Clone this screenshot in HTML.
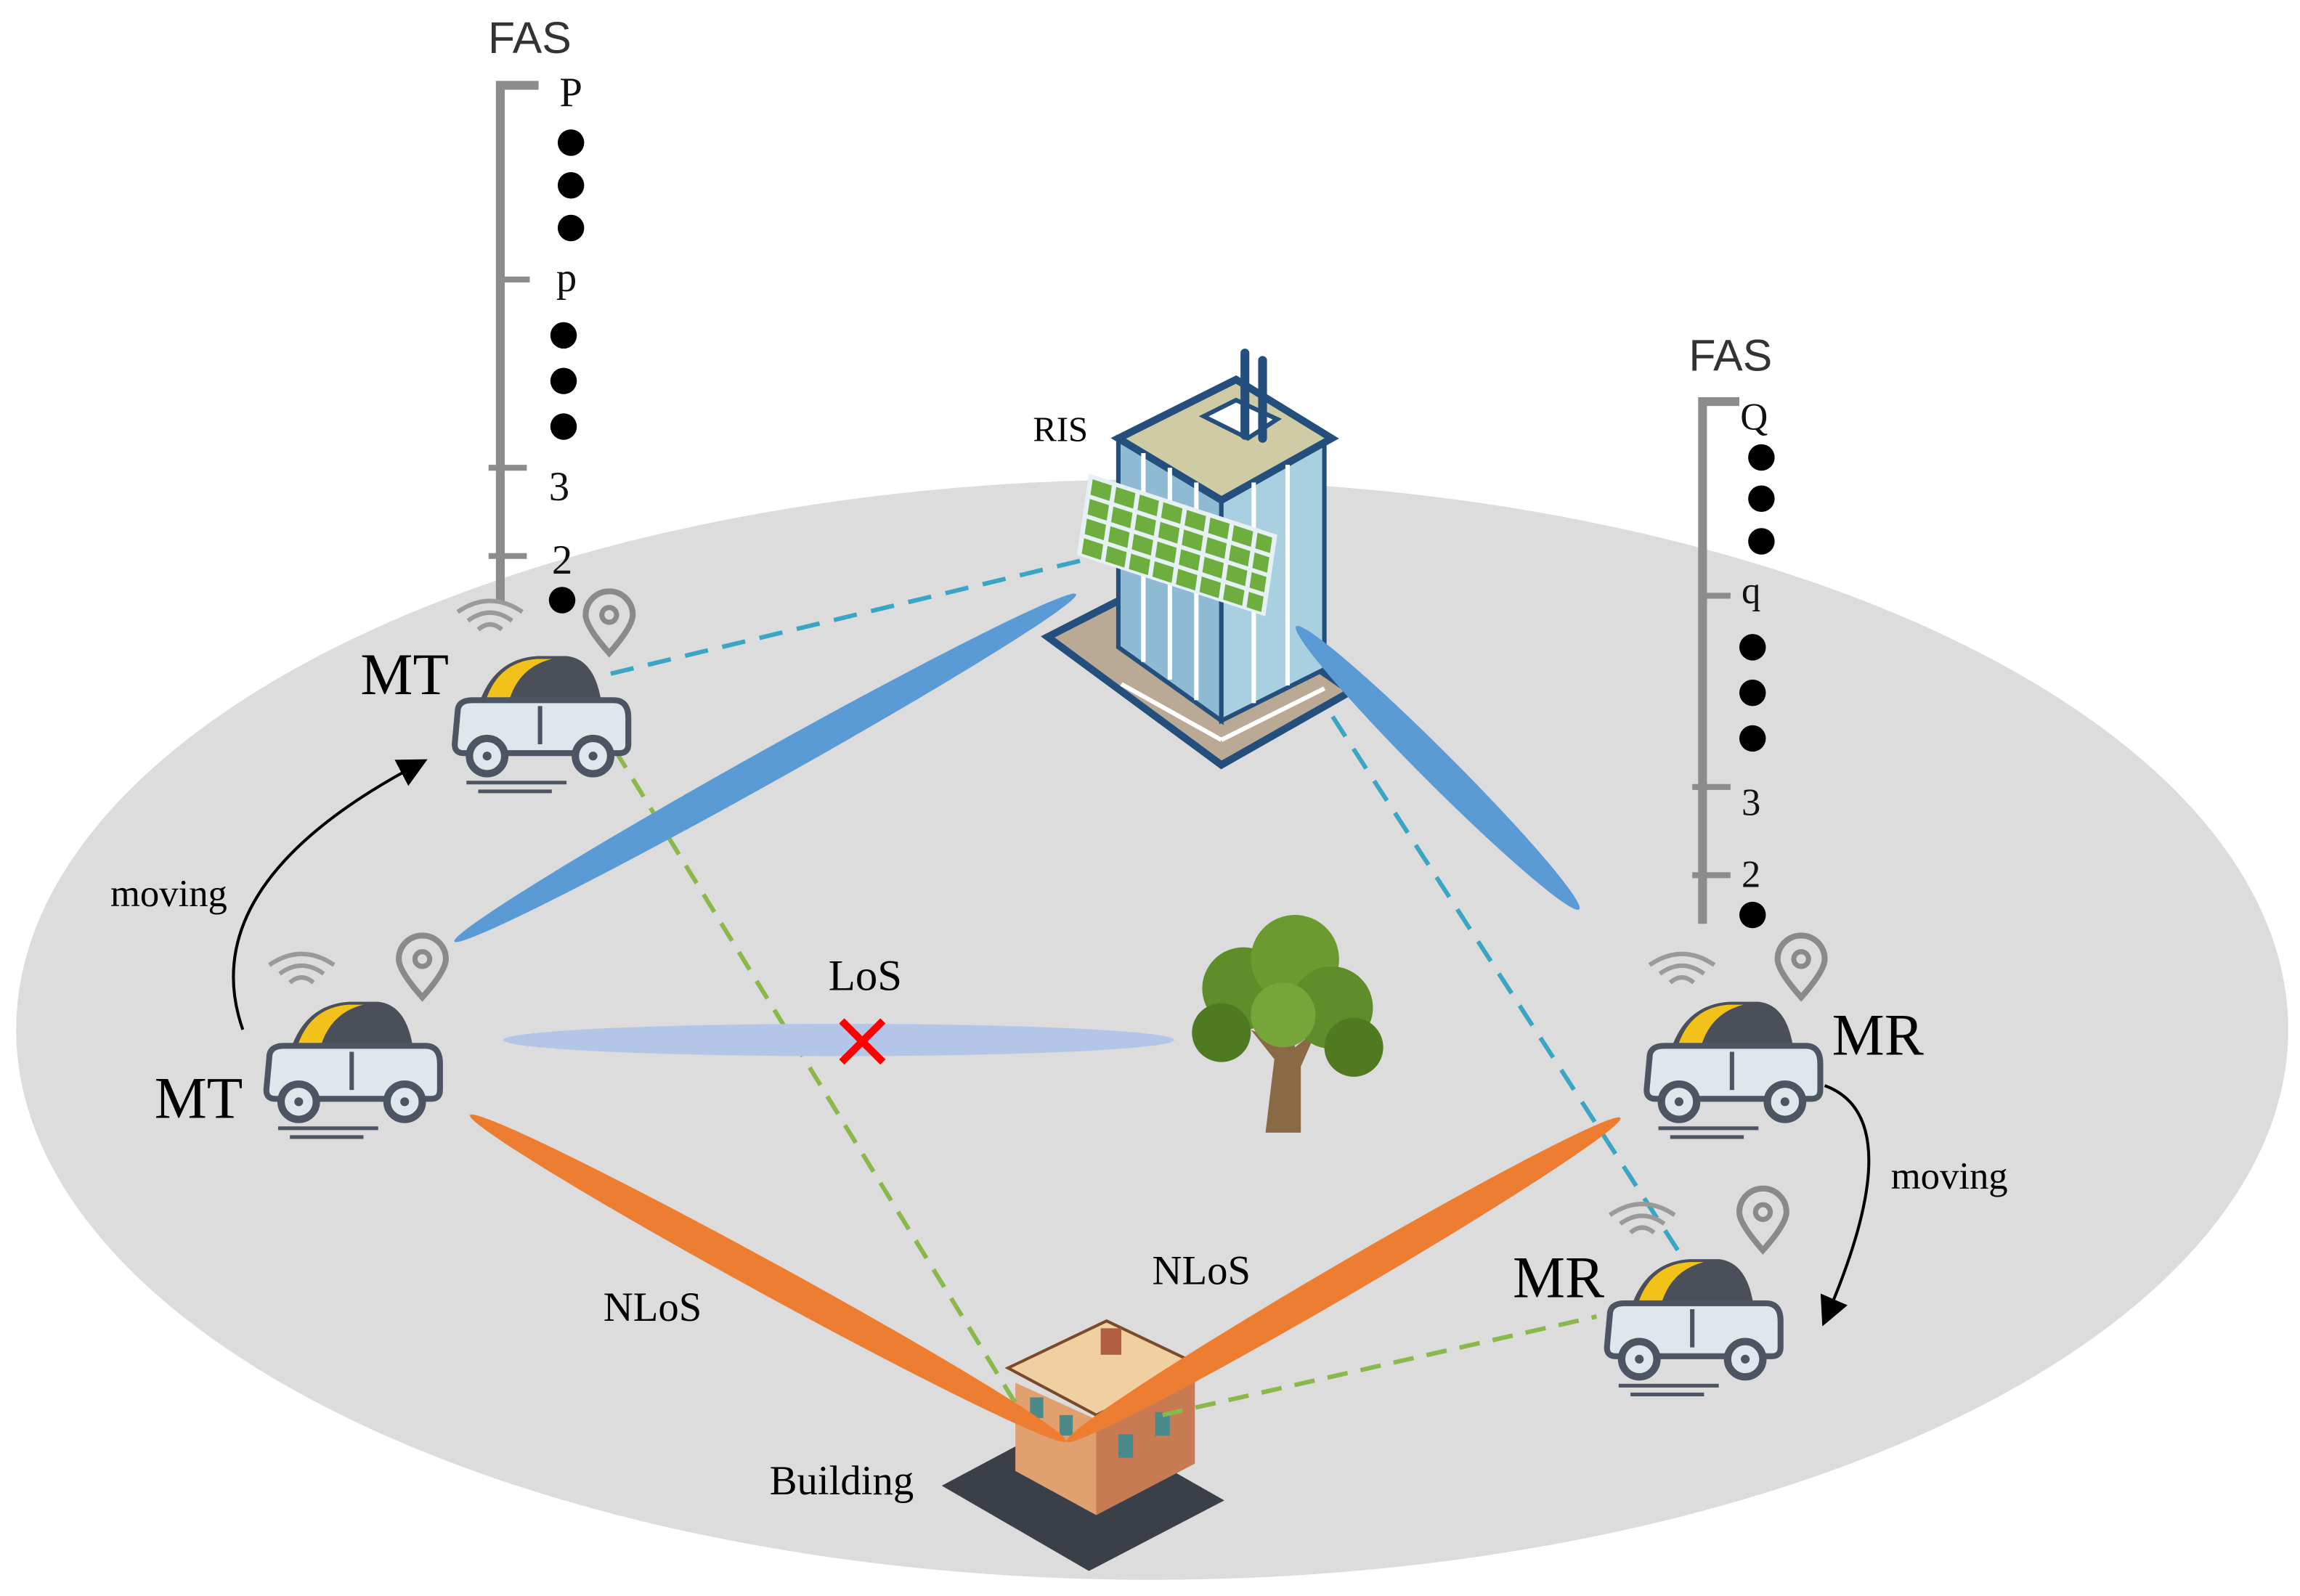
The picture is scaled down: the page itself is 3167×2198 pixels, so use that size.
<!DOCTYPE html>
<html><head><meta charset="utf-8"><style>html,body{margin:0;padding:0;background:#fff}svg{display:block}</style></head>
<body>
<svg width="3167" height="2198" viewBox="0 0 1563 1085" preserveAspectRatio="none" xmlns="http://www.w3.org/2000/svg" font-family="Liberation Serif, serif">
<defs>
<g id="car">
  <path d="M20 40 Q30 8 60 6 L80 6 Q100 8 104 40 Z" fill="#4a4f5a"/>
  <path d="M24 40 Q32 10 60 8 L70 8 Q46 14 40 40 Z" fill="#f2c21b"/>
  <path d="M6 44 Q6 36 16 36 L112 36 Q122 36 122 48 L122 66 Q122 72 116 72 L10 72 Q4 72 4 66 Z" fill="#dfe6ec" stroke="#4e5562" stroke-width="4"/>
  <line x1="62" y1="40" x2="62" y2="66" stroke="#4e5562" stroke-width="3"/>
  <circle cx="26" cy="74" r="12" fill="#dfe6ec" stroke="#4e5562" stroke-width="5"/>
  <circle cx="26" cy="74" r="3" fill="#4e5562"/>
  <circle cx="98" cy="74" r="12" fill="#dfe6ec" stroke="#4e5562" stroke-width="5"/>
  <circle cx="98" cy="74" r="3" fill="#4e5562"/>
  <line x1="12" y1="92" x2="80" y2="92" stroke="#4e5562" stroke-width="2.5"/>
  <line x1="20" y1="98" x2="70" y2="98" stroke="#4e5562" stroke-width="2.5"/>
</g>
<g id="wifi" fill="none" stroke="#9a9a9a" stroke-width="3">
  <path d="M-8 0 Q0 -7 8 0"/><path d="M-15 -6 Q0 -17 15 -6"/><path d="M-22 -12 Q0 -27 22 -12"/>
</g>
<g id="pin">
  <path d="M0 22 Q-16 4 -16 -4 A16 16 0 1 1 16 -4 Q16 4 0 22 Z" fill="none" stroke="#8a8a8a" stroke-width="4"/>
  <circle cx="0" cy="-4" r="5" fill="none" stroke="#8a8a8a" stroke-width="3.5"/>
</g>
<marker id="ar" markerWidth="10" markerHeight="10" refX="8" refY="5" orient="auto"><path d="M0 0 L10 5 L0 10 Z" fill="#000"/></marker>
</defs>
<rect width="1563" height="1085" fill="#fff"/>
<ellipse cx="783" cy="700" rx="772" ry="374" fill="#dcdcdc"/>

<!-- house -->
<g>
  <path d="M640 1010 L740 1068 L832 1020 L730 962 Z" fill="#3b3f48"/>
  <path d="M690 940 L690 1000 L745 1030 L745 965 Z" fill="#e0a070"/>
  <path d="M745 965 L745 1030 L812 995 L812 935 Z" fill="#c87a52"/>
  <path d="M685 930 L745 962 L815 928 L752 898 Z" fill="#f0d0a0" stroke="#7a4a2a" stroke-width="2"/>
  <rect x="748" y="903" width="14" height="18" fill="#b06040"/>
  <rect x="760" y="975" width="10" height="16" fill="#4a8a8a"/><rect x="785" y="960" width="10" height="16" fill="#4a8a8a"/>
  <rect x="700" y="950" width="9" height="14" fill="#4a8a8a"/><rect x="720" y="962" width="9" height="14" fill="#4a8a8a"/>
</g>

<!-- dashed links -->
<line x1="415" y1="458" x2="760" y2="375" stroke="#3aa6c4" stroke-width="3" stroke-dasharray="16,10"/>
<line x1="835" y1="378" x2="1148" y2="862" stroke="#3aa6c4" stroke-width="3" stroke-dasharray="16,10"/>
<line x1="418" y1="510" x2="695" y2="962" stroke="#8ab84a" stroke-width="3" stroke-dasharray="14,9"/>
<line x1="790" y1="962" x2="1085" y2="895" stroke="#8ab84a" stroke-width="3" stroke-dasharray="14,9"/>

<!-- LoS -->
<ellipse cx="570" cy="707" rx="228" ry="11" fill="#b4c6e7"/>
<path d="M572 694 L600 722 M600 694 L572 722" stroke="#ff0000" stroke-width="5"/>

<!-- RIS building -->
<g>
  <path d="M712 433 L800 388 L918 470 L830 520 Z" fill="#b9a995" stroke="#244f7d" stroke-width="5"/>
  <path d="M760 298 L760 440 L830 490 L830 340 Z" fill="#8fbad4" stroke="#244f7d" stroke-width="3"/>
  <path d="M830 340 L830 490 L900 455 L900 300 Z" fill="#a9d0e0" stroke="#244f7d" stroke-width="3"/>
  <path d="M760 298 L830 340 L905 298 L840 258 Z" fill="#cfcba4" stroke="#244f7d" stroke-width="5"/>
  <path d="M818 283 L848 298 L868 285 L840 272 Z" fill="#fff" stroke="#244f7d" stroke-width="3"/>
  <path d="M846 296 L846 240 M858 298 L858 245" stroke="#244f7d" stroke-width="6" stroke-linecap="round"/>
  <g stroke="#fff" stroke-width="3">
    <line x1="777" y1="308" x2="777" y2="450"/><line x1="795" y1="318" x2="795" y2="462"/><line x1="813" y1="328" x2="813" y2="476"/>
    <line x1="852" y1="328" x2="852" y2="478"/><line x1="875" y1="316" x2="875" y2="466"/>
    <line x1="762" y1="465" x2="830" y2="503" /><line x1="830" y1="503" x2="900" y2="468"/>
  </g>
  <g transform="translate(740,322) skewY(18) skewX(-8)">
    <rect x="0" y="0" width="128" height="58" fill="#e6f0f5"/>
    <g fill="#6eae3f">
      <rect x="3" y="3" width="13" height="11"/><rect x="19" y="3" width="13" height="11"/><rect x="35" y="3" width="13" height="11"/><rect x="51" y="3" width="13" height="11"/><rect x="67" y="3" width="13" height="11"/><rect x="83" y="3" width="13" height="11"/><rect x="99" y="3" width="13" height="11"/><rect x="115" y="3" width="10" height="11"/>
      <rect x="3" y="17" width="13" height="11"/><rect x="19" y="17" width="13" height="11"/><rect x="35" y="17" width="13" height="11"/><rect x="51" y="17" width="13" height="11"/><rect x="67" y="17" width="13" height="11"/><rect x="83" y="17" width="13" height="11"/><rect x="99" y="17" width="13" height="11"/><rect x="115" y="17" width="10" height="11"/>
      <rect x="3" y="31" width="13" height="11"/><rect x="19" y="31" width="13" height="11"/><rect x="35" y="31" width="13" height="11"/><rect x="51" y="31" width="13" height="11"/><rect x="67" y="31" width="13" height="11"/><rect x="83" y="31" width="13" height="11"/><rect x="99" y="31" width="13" height="11"/><rect x="115" y="31" width="10" height="11"/>
      <rect x="3" y="45" width="13" height="11"/><rect x="19" y="45" width="13" height="11"/><rect x="35" y="45" width="13" height="11"/><rect x="51" y="45" width="13" height="11"/><rect x="67" y="45" width="13" height="11"/><rect x="83" y="45" width="13" height="11"/><rect x="99" y="45" width="13" height="11"/><rect x="115" y="45" width="10" height="11"/>
    </g>
  </g>
</g>

<!-- beams -->
<ellipse cx="520" cy="522" rx="242" ry="11" transform="rotate(-29.2 520 522)" fill="#5b9bd5"/>
<ellipse cx="977" cy="522" rx="136" ry="11" transform="rotate(45 977 522)" fill="#5b9bd5"/>
<ellipse cx="522" cy="869" rx="231" ry="11" transform="rotate(28.7 522 869)" fill="#ed7d31"/>
<ellipse cx="913" cy="870" rx="218" ry="11" transform="rotate(-30.3 913 870)" fill="#ed7d31"/>

<!-- tree -->
<g>
  <path d="M860 770 L866 720 L850 700 L868 708 L878 690 L880 712 L895 700 L884 725 L884 770 Z" fill="#8a6a45"/>
  <circle cx="845" cy="672" r="28" fill="#5e8d2a"/><circle cx="880" cy="652" r="30" fill="#6a9a30"/><circle cx="905" cy="685" r="28" fill="#5e8d2a"/>
  <circle cx="830" cy="702" r="20" fill="#4f7a22"/><circle cx="920" cy="712" r="20" fill="#4f7a22"/><circle cx="872" cy="690" r="22" fill="#76a63a"/>
</g>

<!-- FAS left -->
<path d="M340 410 L340 58 L366 58" fill="none" stroke="#8c8c8c" stroke-width="6"/>
<g stroke="#8c8c8c" stroke-width="4"><line x1="340" y1="190" x2="360" y2="190"/><line x1="332" y1="318" x2="358" y2="318"/><line x1="332" y1="378" x2="358" y2="378"/></g>
<text x="360" y="36" font-family="Liberation Sans, sans-serif" font-size="30" text-anchor="middle" fill="#333">FAS</text>
<g font-size="28" text-anchor="middle" fill="#111">
<text x="388" y="72">P</text><text x="385" y="198">p</text><text x="380" y="340">3</text><text x="382" y="390">2</text>
</g>
<g fill="#000"><circle cx="388" cy="97" r="9"/><circle cx="388" cy="126" r="9"/><circle cx="388" cy="155" r="9"/>
<circle cx="383" cy="228" r="9"/><circle cx="383" cy="259" r="9"/><circle cx="383" cy="290" r="9"/><circle cx="382" cy="408" r="9"/></g>

<!-- FAS right -->
<path d="M1157 628 L1157 273 L1182 273" fill="none" stroke="#8c8c8c" stroke-width="6"/>
<g stroke="#8c8c8c" stroke-width="4"><line x1="1157" y1="405" x2="1176" y2="405"/><line x1="1150" y1="535" x2="1176" y2="535"/><line x1="1150" y1="595" x2="1176" y2="595"/></g>
<text x="1176" y="252" font-family="Liberation Sans, sans-serif" font-size="30" text-anchor="middle" fill="#333">FAS</text>
<g font-size="26" text-anchor="middle" fill="#111">
<text x="1192" y="292">Q</text><text x="1190" y="410">q</text><text x="1190" y="554">3</text><text x="1190" y="603">2</text>
</g>
<g fill="#000"><circle cx="1197" cy="311" r="9"/><circle cx="1197" cy="339" r="9"/><circle cx="1197" cy="368" r="9"/>
<circle cx="1191" cy="440" r="9"/><circle cx="1191" cy="471" r="9"/><circle cx="1191" cy="502" r="9"/><circle cx="1191" cy="622" r="9"/></g>

<!-- cars -->
<use href="#car" x="305" y="440"/>
<use href="#wifi" x="333" y="428"/><use href="#pin" x="414" y="422"/>
<use href="#car" x="177" y="675"/>
<use href="#wifi" x="205" y="668"/><use href="#pin" x="287" y="656"/>
<use href="#car" x="1115" y="675"/>
<use href="#wifi" x="1143" y="668"/><use href="#pin" x="1224" y="656"/>
<use href="#car" x="1088" y="850"/>
<use href="#wifi" x="1116" y="838"/><use href="#pin" x="1198" y="828"/>

<!-- arrows -->
<path d="M165 700 Q130 600 287 518" fill="none" stroke="#000" stroke-width="2" marker-end="url(#ar)"/>
<path d="M1240 738 Q1300 760 1240 898" fill="none" stroke="#000" stroke-width="2" marker-end="url(#ar)"/>

<!-- labels -->
<g fill="#000">
<text x="245" y="472" font-size="40">MT</text>
<text x="105" y="760" font-size="40">MT</text>
<text x="1245" y="717" font-size="40">MR</text>
<text x="1028" y="882" font-size="40">MR</text>
<text x="75" y="616" font-size="26">moving</text>
<text x="1285" y="808" font-size="26">moving</text>
<text x="563" y="673" font-size="30">LoS</text>
<text x="410" y="898" font-size="28">NLoS</text>
<text x="783" y="873" font-size="28">NLoS</text>
<text x="523" y="1016" font-size="28">Building</text>
<text x="702" y="300" font-size="24">RIS</text>
</g>
</svg>
</body></html>
